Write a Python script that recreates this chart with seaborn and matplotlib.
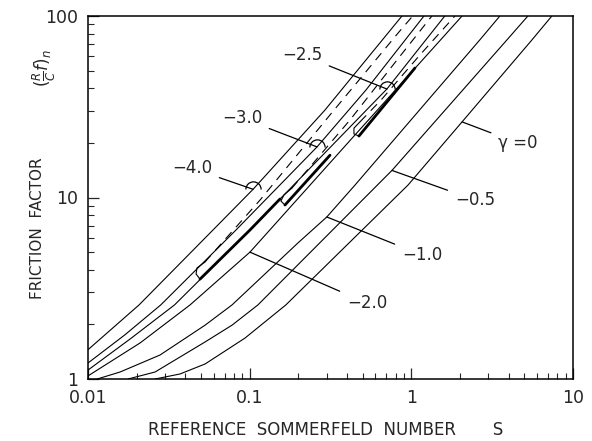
import numpy as np
import pandas as pd
import matplotlib
matplotlib.use("Agg")
import matplotlib.pyplot as plt
from matplotlib.path import Path
import seaborn as sns

# ---- main curves (S, friction factor) ----
S_m40 = [0.01, 0.0207, 0.0593, 0.105, 0.292, 0.875]
F_m40 = [1.45, 2.56, 6.62, 11.1, 30.3, 100]
S_m30 = [0.01, 0.0169, 0.0282, 0.0823, 0.261, 0.524, 1.197]
F_m30 = [1.225, 1.75, 2.56, 6.62, 19.0, 39.1, 100]
S_m25 = [0.01, 0.0182, 0.0343, 0.1004, 0.706, 1.61]
F_m25 = [1.12, 1.66, 2.56, 6.62, 39.6, 100]
S_m20 = [0.01, 0.021, 0.0428, 0.1004, 0.448, 2.06]
F_m20 = [1.04, 1.58, 2.56, 5.0, 22.1, 100]
S_m10 = [0.0114, 0.0158, 0.0279, 0.053, 0.0778, 0.199, 0.30, 0.448, 2.65, 3.53]
F_m10 = [1.0, 1.093, 1.356, 1.98, 2.56, 5.62, 7.81, 11.7, 73.8, 100]
S_m05 = [0.0177, 0.026, 0.053, 0.0778, 0.1125, 0.759, 3.9, 5.26]
F_m05 = [1.0, 1.093, 1.6, 1.98, 2.56, 14.1, 73.8, 100]
S_0 = [0.026, 0.0371, 0.053, 0.0935, 0.1675, 0.953, 2.06, 5.57, 7.4]
F_0 = [1.0, 1.066, 1.21, 1.68, 2.56, 11.7, 26.1, 73.8, 100]

# ---- loop branches: dashed, tip (thin solid), thick solid ----
S_d40 = [0.0529, 0.116, 0.314, 0.838, 1.02]
F_d40 = [4.41, 9.69, 28.5, 81.6, 100]
S_t40 = [0.0529, 0.0472, 0.0466, 0.0493]
F_t40 = [4.41, 4.09, 3.79, 3.55]
S_k40 = [0.0493, 0.1004, 0.154]
F_k40 = [3.55, 6.62, 9.81]

S_d30 = [0.1827, 0.417, 0.815, 1.34]
F_d30 = [11.27, 26.7, 57.2, 100]
S_t30 = [0.1827, 0.163, 0.156, 0.1653]
F_t30 = [11.27, 10.33, 9.56, 9.09]
S_k30 = [0.1653, 0.314]
F_k30 = [9.09, 17.1]

S_d25 = [0.481, 0.649, 1.13, 1.86]
F_d25 = [26.1, 34.4, 61.0, 100]
S_t25 = [0.481, 0.4416, 0.4416, 0.474]
F_t25 = [26.1, 24.1, 22.4, 21.8]
S_k25 = [0.474, 1.053]
F_k25 = [21.8, 51.7]

sns.set_style("ticks")
plt.rcParams['font.family'] = ['DejaVu Sans']
plt.rcParams['mathtext.fontset'] = 'dejavusans'

fig = plt.figure(figsize=(5.92, 4.41), dpi=100)
ax = fig.add_axes([88/592, 1-379/441, (573-88)/592, (379-16)/441])

def draw(S, F, **kw):
    sns.lineplot(x=S, y=F, ax=ax, sort=False, estimator=None, color='black', **kw)

thin = 0.8
for S, F in [(S_m40, F_m40), (S_m30, F_m30), (S_m25, F_m25), (S_m20, F_m20),
             (S_m10, F_m10), (S_m05, F_m05), (S_0, F_0)]:
    draw(S, F, lw=thin)

for S, F in [(S_d40, F_d40), (S_d30, F_d30), (S_d25, F_d25)]:
    draw(S, F, lw=thin, dashes=(8, 6))
for S, F in [(S_t40, F_t40), (S_t30, F_t30), (S_t25, F_t25)]:
    draw(S, F, lw=thin)
for S, F in [(S_k40, F_k40), (S_k30, F_k30), (S_k25, F_k25)]:
    draw(S, F, lw=2.0)

ax.set_xscale('log')
ax.set_yscale('log')
ax.set_xlim(0.01, 10)
ax.set_ylim(1, 100)

# label markers (small arcs) on curves
arc = Path.arc(0, 180)
for S, F in [(0.105, 11.1), (0.261, 19.0), (0.706, 39.6)]:
    ax.plot([S], [F], marker=arc, ms=11, mfc='none', mec='black', mew=0.9, ls='none')

ann = [
    ("\u22124.0", (0.105, 11.1), (0.044, 14.5)),
    ("\u22123.0", (0.261, 19.0), (0.0896, 27.4)),
    ("\u22122.5", (0.706, 39.6), (0.2106, 61.0)),
    ("\u03b3 =0", (2.06, 26.1), (4.56, 19.96)),
    ("\u22120.5", (0.759, 14.1), (2.47, 9.69)),
    ("\u22121.0", (0.30, 7.81), (1.163, 4.82)),
    ("\u22122.0", (0.1004, 5.0), (0.531, 2.62)),
]
for txt, xy, xyt in ann:
    ax.annotate(txt, xy=xy, xytext=xyt, ha='center', va='center', fontsize=12,
                arrowprops=dict(arrowstyle='-', lw=0.9, color='black', shrinkA=3, shrinkB=0))

ax.set_xticks([0.01, 0.1, 1, 10])
ax.set_xticklabels(['0.01', '0.1', '1', '10'])
ax.set_yticks([1, 10, 100])
ax.set_yticklabels(['1', '10', '100'])
ax.tick_params(which='major', direction='in', length=8, width=0.9, labelsize=12.5,
               top=False, right=False, pad=7)
ax.tick_params(which='minor', direction='in', length=4, width=0.8, top=False, right=False)
for sp in ax.spines.values():
    sp.set_linewidth(1.1)
    sp.set_color('black')
ax.grid(False)

ax.set_xlabel('')
ax.set_ylabel('')
fig.text(326/592, 1-430/441, 'REFERENCE  SOMMERFELD  NUMBER       S',
         ha='center', va='center', fontsize=12)
fig.text(37.5/592, 1-228/441, 'FRICTION  FACTOR', rotation=90, ha='center', va='center', fontsize=11)
fig.text(44/592, 1-68/441, r'$(\frac{R}{C}f)_{n}$', rotation=90, ha='center', va='center', fontsize=12)

fig.savefig('out.png', dpi=100, facecolor='white')
